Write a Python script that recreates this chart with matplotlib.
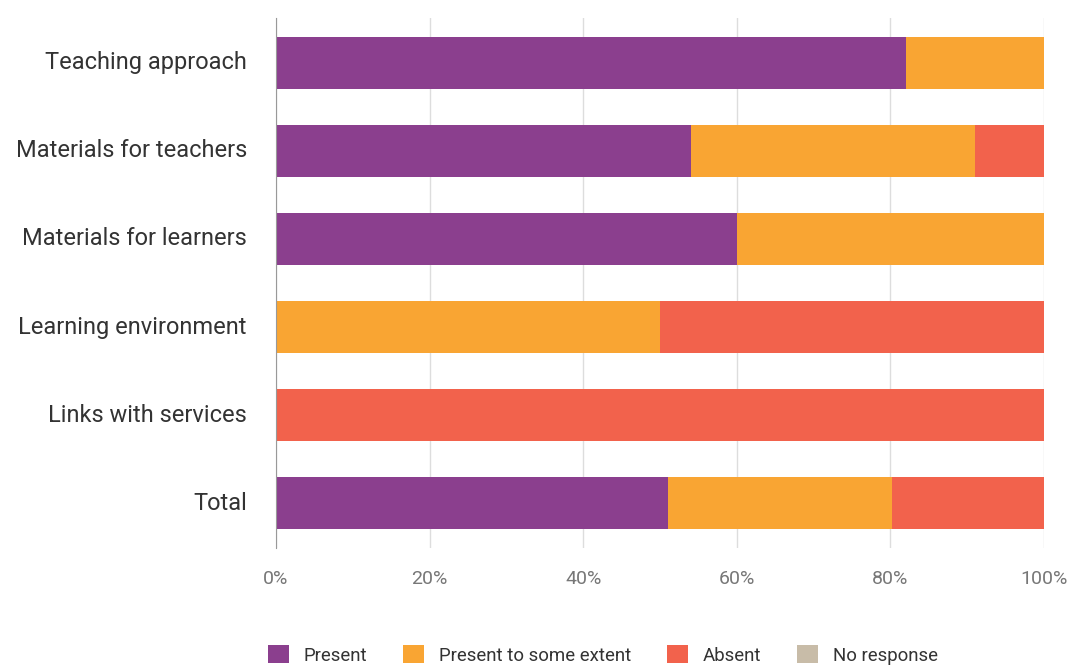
import numpy as np
import matplotlib.pyplot as plt
from matplotlib.patches import Patch

plt.rcParams['font.family'] = ['Roboto', 'DejaVu Sans']

# Data (percent)
categories = ["Teaching approach", "Materials for teachers", "Materials for learners",
              "Learning environment", "Links with services", "Total"]
present = [82, 54, 60, 0, 0, 51]
some_extent = [18, 37, 40, 50, 0, 29.2]
absent = [0, 9, 0, 50, 100, 19.8]
no_response = [0, 0, 0, 0, 0, 0]

series_names = ["Present", "Present to some extent", "Absent", "No response"]
colors = ["#8b3f8e", "#f9a533", "#f2624c", "#c8bca8"]

fig = plt.figure(figsize=(10.71, 6.65), dpi=100)
ax = fig.add_axes([276 / 1071, 1 - 548 / 665, (1044 - 276) / 1071, (548 - 18) / 665])

y = np.arange(len(categories))
left = np.zeros(len(categories))
for vals, name, c in zip([present, some_extent, absent, no_response], series_names, colors):
    vals = np.array(vals, dtype=float)
    ax.barh(y, vals, left=left, height=0.59, color=c, label=name, zorder=2)
    left += vals

ax.set_xlim(0, 100)
ax.set_ylim(len(categories) - 0.49, -0.51)
ax.set_yticks(y)
ax.set_yticklabels(categories, fontsize=17, color="#333333", va='center')
ax.set_xticks(np.arange(0, 101, 20))
ax.set_xticklabels([f"{v}%" for v in range(0, 101, 20)], fontsize=14, color="#777777")
ax.tick_params(axis='both', length=0)
ax.tick_params(axis='y', pad=21)
ax.tick_params(axis='x', pad=16)
ax.grid(axis='x', color="#dddddd", linewidth=1, zorder=0)
for s in ["top", "right", "bottom"]:
    ax.spines[s].set_visible(False)
ax.spines["left"].set_color("#999999")
ax.spines["left"].set_zorder(3)

handles = [Patch(facecolor=c, edgecolor='none') for c in colors]
fig.legend(handles, series_names, loc='center', bbox_to_anchor=(603 / 1071, 1 - 655 / 665),
           ncol=4, frameon=False, fontsize=13.4, handlelength=1.1, handleheight=1.1,
           columnspacing=1.95, handletextpad=0.8, labelcolor="#333333")

fig.savefig("out.png", dpi=100)
